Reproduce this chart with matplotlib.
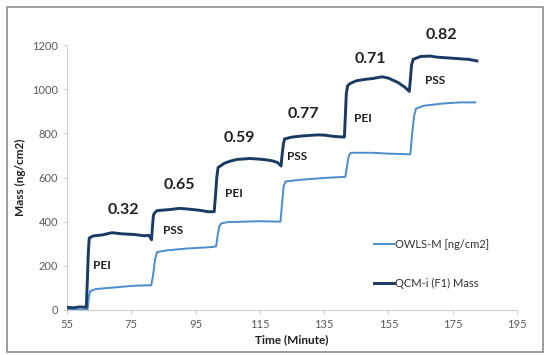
import matplotlib
matplotlib.use("Agg")
import matplotlib.pyplot as plt
from matplotlib.patches import Rectangle

# QCM-i (F1) Mass
qcm_t = [55, 57, 59, 61, 61.3, 61.6, 61.9, 63, 66, 69, 72, 76, 79, 80.5, 81.3,
         81.6, 81.9, 82.3, 83, 87, 90, 92, 96, 99, 100.8,
         101.2, 101.6, 102, 104, 106, 108, 112, 115, 117, 119, 120.5, 121.6,
         121.9, 122.3, 122.7, 125, 128, 130, 133, 135, 138, 141.3,
         141.6, 141.9, 142.3, 143, 145, 148, 150, 153, 155, 158, 160, 161.5,
         161.8, 162.2, 162.7, 165, 168, 170, 173, 175, 178, 180, 182.5]
qcm_v = [12, 10, 14, 12, 120, 250, 325, 335, 340, 350, 345, 342, 336, 338, 318,
         380, 430, 440, 450, 455, 460, 458, 452, 445, 445,
         520, 600, 645, 665, 675, 682, 686, 683, 680, 675, 668, 652,
         700, 750, 775, 783, 788, 790, 793, 792, 786, 783,
         880, 980, 1015, 1025, 1038, 1045, 1048, 1056, 1050, 1030, 1010, 990,
         1040, 1110, 1135, 1148, 1150, 1145, 1142, 1140, 1137, 1135, 1128]

# OWLS-M [ng/cm2]
owls_t = [55, 61.4, 61.8, 62.2, 64, 68, 72, 76, 81.2,
          81.8, 82.4, 83, 86, 92, 100, 101.4,
          101.9, 102.4, 103, 105, 110, 115, 121.4,
          121.9, 122.4, 123, 128, 135, 141.6,
          142.2, 142.7, 143.3, 150, 155, 161.8,
          162.4, 163, 163.6, 166, 172, 177, 182]
owls_v = [0, 0, 60, 85, 95, 100, 105, 110, 112,
          160, 230, 262, 270, 278, 285, 288,
          340, 380, 392, 398, 400, 402, 400,
          480, 560, 582, 590, 598, 603,
          660, 700, 712, 712, 708, 705,
          800, 880, 912, 925, 935, 940, 940]

ratio_labels = ["0.32", "0.65", "0.59", "0.77", "0.71", "0.82"]
ratio_x = [72.5, 90, 108.5, 128.5, 149.3, 171.5]
ratio_y = [452, 567, 777, 888, 1137, 1247]
layer_labels = ["PEI", "PSS", "PEI", "PSS", "PEI", "PSS"]
layer_x = [66, 88, 107, 126.5, 147, 169.5]
layer_y = [200, 362, 527, 697, 867, 1037]

x_ticks = [55, 75, 95, 115, 135, 155, 175, 195]
y_ticks = [0, 200, 400, 600, 800, 1000, 1200]

qcm_color = "#1b3a63"
owls_color = "#4a8ccc"
FONT = "Lato"

fig = plt.figure(figsize=(5.5, 3.55), dpi=100)
ax = fig.add_axes([67/550, 1-310/355, (517-67)/550, (310-45)/355])

ax.plot(owls_t, owls_v, color=owls_color, lw=1.4, label="OWLS-M [ng/cm2]", zorder=3)
ax.plot(qcm_t, qcm_v, color=qcm_color, lw=2.1, label="QCM-i (F1) Mass", zorder=4)

ax.set_xlim(55, 195)
ax.set_ylim(0, 1200)
ax.set_xticks(x_ticks)
ax.set_yticks(y_ticks)
for s in ["top", "right"]:
    ax.spines[s].set_visible(False)
for s in ["left", "bottom"]:
    ax.spines[s].set_color("#d0d0d0")
    ax.spines[s].set_linewidth(0.8)
ax.tick_params(axis="both", colors="#d0d0d0", labelcolor="#595959",
               labelsize=8, length=3, width=0.8, direction="out")
for lab in ax.get_xticklabels() + ax.get_yticklabels():
    lab.set_fontfamily(FONT)

ax.set_xlabel("Time (Minute)", fontsize=8.5, fontweight="bold", family=FONT,
              labelpad=3, color="#202020")
ax.set_ylabel("Mass (ng/cm2)", fontsize=8.5, fontweight="bold", family=FONT,
              labelpad=4, color="#202020")

for txt, x, y in zip(ratio_labels, ratio_x, ratio_y):
    ax.text(x, y, txt, fontsize=11.5, fontweight="bold", family=FONT,
            ha="center", va="center", color="#202020", clip_on=False)
for txt, x, y in zip(layer_labels, layer_x, layer_y):
    ax.text(x, y, txt, fontsize=8.5, fontweight="bold", family=FONT,
            ha="center", va="center", color="#202020")

leg = ax.legend(loc="upper left", bbox_to_anchor=(0.66, 0.306), frameon=False,
                handlelength=1.8, handletextpad=0.1, labelspacing=2.5,
                prop={"family": FONT, "size": 8})
for t in leg.get_texts():
    t.set_color("#303030")

fig.patches.append(Rectangle((7/550, 1-352/355), (543-7)/550, (352-7)/355,
                             transform=fig.transFigure, fill=False,
                             edgecolor="#8c8c8c", lw=1.2))

fig.savefig("out.png", dpi=100, facecolor="white")
